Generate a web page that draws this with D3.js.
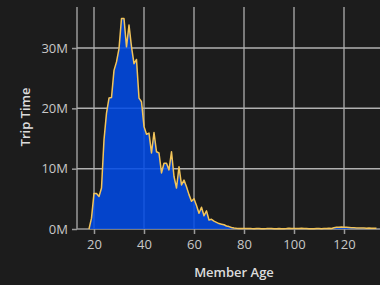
<!DOCTYPE html>
<html><head><meta charset="utf-8">
<script src="https://cdn.jsdelivr.net/npm/d3@7"></script>
<style>
html,body{margin:0;padding:0;background:#1c1c1c;}
svg{display:block;}
text{font-family:"Open Sans","Noto Sans",sans-serif;}
</style></head>
<body>
<svg id="chart" width="380" height="285"></svg>
<script>
// Member age (years)
const ages = d3.range(18, 134);
// Trip time per age, in millions
const tripTime = [
  0.0, 1.8, 5.9, 5.9, 5.4, 6.8, 14.8, 19.2, 21.7, 21.8,   // 18-27
  26.3, 27.7, 29.9, 34.9, 34.9, 30.2, 33.8, 30.2, 27.4, 28.1, // 28-37
  21.7, 21.1, 17.0, 15.7, 15.9, 12.6, 16.0, 12.8, 12.6, 9.3, // 38-47
  10.9, 10.9, 9.8, 12.8, 8.7, 6.8, 10.3, 7.3, 8.1, 7.0,      // 48-57
  5.7, 4.6, 5.0, 3.9, 2.6, 3.6, 2.2, 3.0, 1.5, 1.6,           // 58-67
  1.3, 1.1, 0.9, 0.8, 0.7, 0.5, 0.4, 0.25, 0.15, 0.12,        // 68-77
  0.1, 0.08, 0.07, 0.08, 0.1, 0.07, 0.06, 0.08, 0.1, 0.06,    // 78-87
  0.05, 0.07, 0.1, 0.08, 0.06, 0.05, 0.07, 0.06, 0.05, 0.08,  // 88-97
  0.12, 0.09, 0.07, 0.08, 0.1, 0.12, 0.08, 0.07, 0.06, 0.05,  // 98-107
  0.06, 0.08, 0.07, 0.06, 0.08, 0.1, 0.12, 0.1, 0.2, 0.28,    // 108-117
  0.3, 0.32, 0.3, 0.28, 0.25, 0.22, 0.2, 0.18, 0.16, 0.15,    // 118-127
  0.15, 0.14, 0.15, 0.14, 0.13, 0.13                           // 128-133
];
const xTicks = [20, 40, 60, 80, 100, 120];
const yTicks = [0, 10, 20, 30];
const xTitle = "Member Age";
const yTitle = "Trip Time";

const data = ages.map((a, i) => ({age: a, v: tripTime[i]}));
const svg = d3.select("#chart");
const L = 77, R = 377, T = 7, B = 229;

const x = d3.scaleLinear().domain([13.2, 133.2]).range([L, R]);
const y = d3.scaleLinear().domain([0, 36.8]).range([B, T]);

// background
svg.append("rect").attr("width", 380).attr("height", 285).attr("fill", "#1c1c1c");

// gridlines
const g = svg.append("g");
g.selectAll(".vg").data(xTicks).join("line")
  .attr("x1", d => x(d)).attr("x2", d => x(d)).attr("y1", T).attr("y2", B)
  .attr("stroke", "#d8d8d8").attr("stroke-width", 1);
g.append("line").attr("x1", L).attr("x2", L).attr("y1", T).attr("y2", B)
  .attr("stroke", "#d8d8d8").attr("stroke-width", 1);
g.selectAll(".hg").data(yTicks).join("line")
  .attr("x1", L).attr("x2", 380).attr("y1", d => y(d)).attr("y2", d => y(d))
  .attr("stroke", d => d === 0 ? "#9a9a9a" : "#b0b0b0").attr("stroke-width", 1.5);

// area
const area = d3.area().x(d => x(d.age)).y0(y(0)).y1(d => y(d.v));
svg.append("path").datum(data).attr("d", area)
  .attr("fill", "#004ae8").attr("fill-opacity", 0.86);
const line = d3.line().x(d => x(d.age)).y(d => y(d.v));
svg.append("path").datum(data).attr("d", line)
  .attr("fill", "none").attr("stroke", "#f2c45a").attr("stroke-width", 1.5)
  .attr("stroke-linejoin", "round");

// axes
const xAxis = d3.axisBottom(x).tickValues(xTicks).tickSize(5).tickPadding(6).tickSizeOuter(0);
const xa = svg.append("g").attr("transform", `translate(0,${B})`).call(xAxis);
xa.select(".domain").remove();
xa.selectAll("line").attr("stroke", "#9a9a9a").attr("stroke-width", 1.5);
xa.selectAll("text").attr("fill", "#c8c8c8").attr("font-size", 13)
  .attr("font-family", "'Open Sans','Noto Sans',sans-serif");

const yAxis = d3.axisLeft(y).tickValues(yTicks).tickFormat(d => d + "M").tickSize(5).tickPadding(4).tickSizeOuter(0);
const ya = svg.append("g").attr("transform", `translate(${L},0)`).call(yAxis);
ya.select(".domain").remove();
ya.selectAll("line").attr("stroke", "#9a9a9a").attr("stroke-width", 1.5);
ya.selectAll("text").attr("fill", "#c8c8c8").attr("font-size", 13)
  .attr("font-family", "'Open Sans','Noto Sans',sans-serif");

svg.append("text").attr("x", 234).attr("y", 277).attr("text-anchor", "middle")
  .attr("fill", "#dcdcdc").attr("font-size", 13).attr("font-weight", 600).text(xTitle);
svg.append("text").attr("transform", "translate(30,117) rotate(-90)").attr("text-anchor", "middle")
  .attr("fill", "#dcdcdc").attr("font-size", 13).attr("font-weight", 600).text(yTitle);
</script>
</body></html>
